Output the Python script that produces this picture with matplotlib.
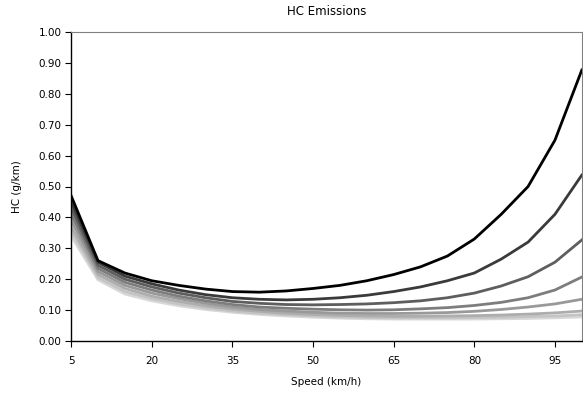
import matplotlib
matplotlib.use("Agg")
import matplotlib.pyplot as plt
from matplotlib.ticker import FormatStrFormatter

speed = [5, 10, 15, 20, 25, 30, 35, 40, 45, 50, 55, 60, 65, 70, 75, 80, 85, 90, 95, 100]

hc_1 = [0.47, 0.26, 0.22, 0.195, 0.18, 0.168, 0.16, 0.158, 0.162, 0.17, 0.18, 0.195, 0.215, 0.24, 0.275, 0.33, 0.41, 0.50, 0.65, 0.877]
hc_2 = [0.45, 0.255, 0.21, 0.185, 0.165, 0.15, 0.14, 0.135, 0.133, 0.135, 0.14, 0.148, 0.16, 0.175, 0.195, 0.22, 0.265, 0.32, 0.41, 0.537]
hc_3 = [0.43, 0.245, 0.20, 0.175, 0.155, 0.14, 0.128, 0.122, 0.118, 0.117, 0.118, 0.12, 0.124, 0.13, 0.14, 0.155, 0.178, 0.208, 0.255, 0.327]
hc_4 = [0.41, 0.235, 0.19, 0.165, 0.145, 0.13, 0.118, 0.11, 0.106, 0.103, 0.101, 0.10, 0.101, 0.104, 0.108, 0.115, 0.125, 0.14, 0.165, 0.207]
hc_5 = [0.39, 0.225, 0.18, 0.155, 0.137, 0.122, 0.11, 0.102, 0.097, 0.093, 0.09, 0.089, 0.089, 0.09, 0.092, 0.096, 0.102, 0.11, 0.12, 0.135]
hc_6 = [0.37, 0.215, 0.17, 0.145, 0.128, 0.114, 0.103, 0.096, 0.09, 0.086, 0.083, 0.081, 0.08, 0.08, 0.081, 0.082, 0.084, 0.087, 0.091, 0.097]
hc_7 = [0.355, 0.205, 0.16, 0.137, 0.12, 0.107, 0.097, 0.09, 0.085, 0.081, 0.078, 0.076, 0.075, 0.075, 0.075, 0.076, 0.077, 0.079, 0.081, 0.085]
hc_8 = [0.34, 0.198, 0.152, 0.13, 0.114, 0.102, 0.093, 0.086, 0.081, 0.077, 0.074, 0.072, 0.071, 0.071, 0.071, 0.071, 0.072, 0.073, 0.075, 0.078]

series = [hc_8, hc_7, hc_6, hc_5, hc_4, hc_3, hc_2, hc_1]
greys = ["#d8d8d8", "#c4c4c4", "#adadad", "#999999", "#7d7d7d", "#5e5e5e", "#3a3a3a", "#000000"]

x_ticks = [5, 20, 35, 50, 65, 80, 95]

fig = plt.figure(figsize=(5.83, 4.0), dpi=100)
ax = fig.add_axes([0.122, 0.1475, 0.876, 0.7725])

for vals, c in zip(series, greys):
    ax.plot(speed, vals, color=c, linewidth=2.0, solid_joinstyle="round")

ax.set_xlim(5, 100)
ax.set_ylim(0, 1.0)
ax.set_xticks(x_ticks)
ax.set_yticks([i / 10 for i in range(11)])
ax.yaxis.set_major_formatter(FormatStrFormatter("%.2f"))
ax.tick_params(axis="both", labelsize=7.5, length=4, width=0.8, direction="out", pad=3)
ax.tick_params(axis="x", pad=7)

for side in ["left", "bottom"]:
    ax.spines[side].set_color("black")
    ax.spines[side].set_linewidth(1.0)
for side in ["top", "right"]:
    ax.spines[side].set_color("#808080")
    ax.spines[side].set_linewidth(0.8)

ax.set_title("HC Emissions", fontsize=8.5, pad=12)
ax.set_xlabel("Speed (km/h)", fontsize=7.5, labelpad=8)
ax.set_ylabel("HC (g/km)", fontsize=7.5, labelpad=12)

fig.savefig("out.png", dpi=100)
